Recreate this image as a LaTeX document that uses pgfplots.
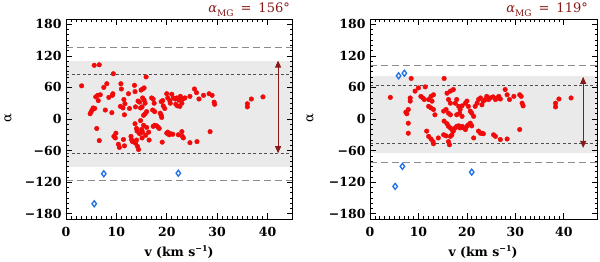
\documentclass[border=0pt]{standalone}
\usepackage{fontspec}
\newfontfamily\dvs{DejaVu Serif}
\usepackage{pgfplots}
\pgfplotsset{compat=1.18}
\usepackage{pgfplotstable}
\usetikzlibrary{arrows.meta}
\definecolor{dred}{RGB}{135,25,25}
\definecolor{bandc}{RGB}{234,234,234}
\definecolor{ldash}{RGB}{140,140,140}
\definecolor{sdash}{RGB}{80,80,80}
\definecolor{pred}{RGB}{240,10,10}
\definecolor{pblue}{RGB}{30,110,230}

\pgfplotstableread{
v a
3.1 63
4.8 10
5.0 14
5.2 17
5.4 21
5.7 20
5.6 102
6.6 103
5.9 42
6.3 45
6.4 35
6.8 46
6.1 -18
6.6 -41
7.5 60
8.1 67
7.8 17
8.5 41
9.2 45
9.3 48
9.4 86
9.1 12
9.5 -33
9.9 -27
9.8 -36
10.4 -48
10.6 -54
10.9 67
11.0 57
10.8 24
11.3 21
11.4 -39
11.6 -51
11.6 8
11.5 37
11.7 29
12.4 48
12.6 20
12.9 -33
13.0 -39
13.2 -43
13.6 64
13.7 52
13.8 23
13.7 -9
14.0 -18
14.1 -23
14.0 -40
13.8 -46
14.2 -52
14.4 -58
14.3 34
14.6 32
14.8 21
15.1 23
14.9 55
15.2 57
15.5 59
15.9 80
15.2 40
15.5 36
15.7 30
15.4 7
15.7 10
16.0 14
14.8 -3
15.4 -12
16.0 -16
16.4 -25
15.8 -31
15.2 -25
15.0 -20
14.6 -28
15.1 -36
16.5 -40
17.0 40
17.3 38
17.5 30
17.2 17
17.6 14
17.3 -14
17.6 -12
18.0 -13
18.3 -16
18.5 -18
18.9 33
19.2 35
19.3 25
19.6 20
18.7 11
18.9 7
19.0 3
19.1 -44
20.0 48
20.2 40
20.6 35
20.7 30
21.0 47
21.3 40
20.0 -27
20.2 -25
20.5 -30
20.8 -28
21.2 -29
21.7 38
22.0 40
22.4 36
22.7 43
23.2 38
23.6 40
21.8 28
22.1 25
22.6 24
23.0 30
22.3 -30
23.0 -24
23.1 -33
23.3 -36
24.6 43
25.5 57
25.9 50
26.4 38
24.6 -45
26.0 -43
27.3 45
28.4 48
29.0 45
29.4 32
29.5 28
28.6 -24
36.0 29
36.0 23
36.8 38
39.1 42
}\redA

\pgfplotstableread{
v a
7.5 -104
22.3 -103
5.6 -161
}\blueA

\pgfplotstableread{
v a
4.2 41
8.5 77
10.0 59
9.3 53
11.4 61
10.5 43
10.9 40
11.2 37
8.3 40
8.3 34
7.9 18
7.4 13
7.6 10
7.9 -8
7.9 -27
12.1 37
12.6 43
12.8 34
12.1 24
12.6 21
13.1 46
13.1 18
13.4 8
15.3 77
15.9 49
16.6 53
17.2 56
16.2 37
16.6 30
15.2 15
15.7 18
16.2 11
16.6 8
15.3 -4
15.9 -9
11.7 -23
12.1 -33
12.6 -38
13.0 -43
13.1 -47
14.1 -36
15.2 -30
15.7 -32
16.2 -14
16.6 -17
16.9 -20
17.2 -23
16.9 -30
16.6 -33
16.2 -43
16.4 -49
17.6 30
17.9 37
18.3 24
18.6 18
19.0 25
17.9 8
18.5 11
19.0 5
17.6 -17
17.9 -14
18.3 -13
18.6 -17
19.0 -14
19.3 -17
19.7 -20
20.0 -14
20.3 -11
20.7 -8
21.0 -13
19.7 30
20.0 34
20.3 24
20.7 15
21.0 11
21.4 5
21.7 24
22.1 30
22.4 37
22.8 40
23.1 27
23.4 34
23.8 37
24.1 43
24.5 37
24.8 40
25.4 42
25.9 37
26.2 40
26.6 43
26.9 38
21.4 -36
22.4 -23
22.8 -27
23.1 -27
23.4 -28
25.5 -30
25.9 -33
26.9 -39
28.3 -38
27.9 56
28.3 46
28.8 37
29.7 43
30.9 46
31.2 43
31.4 30
31.6 25
30.9 -20
38.3 30
38.3 23
39.0 38
41.5 40
}\redB

\pgfplotstableread{
v a
5.9 82
7.1 87
6.7 -90
5.2 -128
21.0 -101
}\blueB

\pgfplotsset{
  panel/.style={
    scale only axis, height=200pt,
    ymin=-190, ymax=190, xmin=0,
    ytick={-180,-120,-60,0,60,120,180},
    yticklabels={−180,−120,−60,0,60,120,180},
    xtick={0,10,20,30,40},
    xticklabels={0,10,20,30,40},
    minor x tick num=9, minor y tick num=5,
    tick align=inside, major tick length=6pt, minor tick length=3pt,
    tick label style={font=\dvs\bfseries\fontsize{12.5}{14}\selectfont},
    yticklabel style={xshift=-1pt},
    xticklabel style={yshift=-5pt},
    axis line style={line width=0.7pt},
    every tick/.style={black, line width=0.6pt},
    axis on top,
  },
  redp/.style={only marks, mark=*, mark size=2.3pt, color=pred},
  bluep/.style={only marks, mark=diamond, mark size=3pt, color=pblue, line width=1.3pt, mark options={fill=white}},
  ld/.style={ldash, line width=0.9pt, dash pattern=on 7pt off 4pt},
  sd/.style={sdash, line width=0.8pt, dash pattern=on 3pt off 2.5pt},
  arr/.style={dred, line width=0.9pt, {Triangle[length=7pt,width=6pt]}-{Triangle[length=7pt,width=6pt]}},
}
\newcommand{\amg}[1]{{\itshape α}\raisebox{-3.5pt}{\fontsize{9}{10}\selectfont MG}\hspace{7pt}=\hspace{7pt}#1°}

\begin{document}
\begin{tikzpicture}[x=1pt,y=1pt]
\useasboundingbox (0,0) rectangle (600,262);
\begin{axis}[panel, at={(66pt,43pt)}, anchor=south west, width=226.7pt, xmax=45]
\addplot[draw=none, fill=bandc] coordinates {(0,-91) (45,-91) (45,110) (0,110)} -- cycle;
\addplot[ld] coordinates {(0,135) (45,135)};
\addplot[ld] coordinates {(0,-116) (45,-116)};
\addplot[sd] coordinates {(0,85) (45,85)};
\addplot[sd] coordinates {(0,-65) (45,-65)};
\addplot[redp] table[x=v,y=a] {\redA};
\addplot[bluep] table[x=v,y=a] {\blueA};
\addplot[arr] coordinates {(42.1,-65) (42.1,111)};
\end{axis}
\begin{axis}[panel, at={(370pt,43pt)}, anchor=south west, width=227.7pt, xmax=47]
\addplot[draw=none, fill=bandc] coordinates {(0,-65) (47,-65) (47,81) (0,81)} -- cycle;
\addplot[ld] coordinates {(0,101) (47,101)};
\addplot[ld] coordinates {(0,-83) (47,-83)};
\addplot[sd] coordinates {(0,63) (47,63)};
\addplot[sd] coordinates {(0,-46) (47,-46)};
\addplot[redp] table[x=v,y=a] {\redB};
\addplot[bluep] table[x=v,y=a] {\blueB};
\addplot[arr] coordinates {(44,-55) (44,80)};
\end{axis}
\node[anchor=base east, text=dred, font=\dvs\fontsize{13}{15}\selectfont, inner sep=0pt] at (290,249) {\amg{156}};
\node[anchor=base east, text=dred, font=\dvs\fontsize{13}{15}\selectfont, inner sep=0pt] at (588,249) {\amg{119}};
\node[font=\dvs\bfseries\fontsize{12.5}{14}\selectfont] at (179,10) {v (km s\raisebox{5pt}{\fontsize{8}{9}\selectfont −1})};
\node[font=\dvs\bfseries\fontsize{12.5}{14}\selectfont] at (483,10) {v (km s\raisebox{5pt}{\fontsize{8}{9}\selectfont −1})};
\node[rotate=90, font=\dvs\fontsize{13}{15}\selectfont] at (8,144) {α};
\node[rotate=90, font=\dvs\fontsize{13}{15}\selectfont] at (310,144) {α};
\end{tikzpicture}
\end{document}
